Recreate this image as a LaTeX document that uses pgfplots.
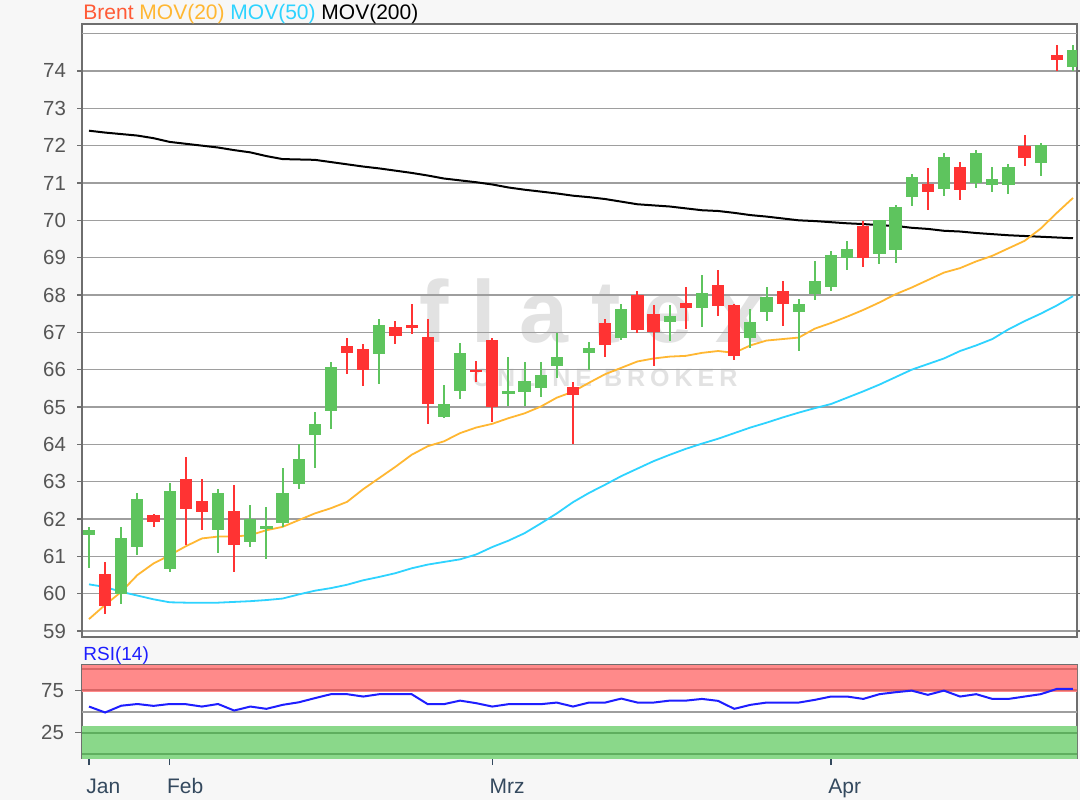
\documentclass[border=0pt]{standalone}
\usepackage{fontspec}
\setmainfont{Liberation Sans}
\newfontfamily\wmfont[LetterSpace=26]{Liberation Sans}
\newfontfamily\wmfontb[LetterSpace=20]{Liberation Sans}
\usepackage{pgfplots}
\pgfplotsset{compat=1.18}
\usepackage{pgfplotstable}

\definecolor{bg}{HTML}{F7F7F7}
\definecolor{cgreen}{HTML}{5EC45E}
\definecolor{cred}{HTML}{FF3333}
\definecolor{mov20}{HTML}{FFB732}
\definecolor{mov50}{HTML}{2ED3FF}
\definecolor{gridc}{HTML}{9E9E9E}
\definecolor{framec}{HTML}{6E6E6E}
\definecolor{labc}{HTML}{555555}
\definecolor{monc}{HTML}{34495E}
\definecolor{brentc}{HTML}{FF5A36}
\definecolor{rsired}{HTML}{FF8A8A}
\definecolor{rsiredd}{HTML}{D96666}
\definecolor{rsigreen}{HTML}{8AD88A}
\definecolor{rsigreend}{HTML}{5FAE5F}
\definecolor{rsiblue}{HTML}{1E1EFF}
\definecolor{wm}{HTML}{E2E2E2}

\pgfplotstableread{
i O H L C
0 61.57 61.80 60.70 61.70
2 59.98 61.80 59.73 61.48
3 61.24 62.70 61.03 62.53
5 60.65 62.97 60.59 62.75
8 61.70 62.80 61.09 62.70
10 61.39 62.37 61.24 61.99
11 61.72 62.33 60.92 61.80
12 61.90 63.36 61.79 62.71
13 62.95 64.00 62.80 63.62
14 64.25 64.86 63.38 64.54
15 64.89 66.20 64.40 66.08
18 66.42 67.36 65.62 67.20
22 64.74 65.60 64.70 65.07
23 65.42 66.72 65.21 66.44
26 65.35 66.35 65.02 65.44
27 65.40 66.20 65.02 65.70
28 65.50 66.20 65.28 65.86
29 66.10 66.98 65.78 66.33
31 66.44 66.75 66.00 66.57
33 66.86 67.75 66.80 67.62
36 67.27 67.73 66.77 67.45
38 67.65 68.53 67.14 68.05
41 66.85 67.62 66.57 67.28
42 67.55 68.22 67.30 67.96
44 67.55 67.89 66.50 67.77
45 68.03 68.91 67.86 68.38
46 68.22 69.18 68.11 69.07
47 69.00 69.44 68.66 69.22
49 69.10 70.02 68.82 70.02
50 69.20 70.41 68.87 70.36
51 70.62 71.24 70.39 71.16
53 70.84 71.81 70.66 71.70
55 71.00 71.88 70.87 71.81
56 70.94 71.43 70.75 71.12
57 70.94 71.50 70.71 71.43
59 71.53 72.08 71.20 72.02
61 74.10 74.70 74.00 74.55
}\greenT

\pgfplotstableread{
i O H L C
1 60.53 60.85 59.45 59.68
4 62.12 62.13 61.78 61.93
6 63.06 63.66 61.30 62.28
7 62.49 63.06 61.70 62.18
9 62.21 62.90 60.59 61.30
16 66.63 66.84 65.88 66.44
17 66.55 66.68 65.56 65.99
19 67.14 67.30 66.68 66.90
20 67.20 67.75 66.95 67.12
21 66.87 67.37 64.55 65.09
24 66.00 66.24 65.67 65.94
25 66.80 66.84 64.59 65.00
30 65.53 65.67 64.00 65.31
32 67.24 67.35 66.33 66.66
34 68.00 68.10 66.98 67.07
35 67.50 67.73 66.09 67.00
37 67.78 68.22 67.10 67.65
39 68.27 68.68 67.43 67.71
40 67.73 67.75 66.25 66.37
43 68.10 68.38 67.16 67.77
48 69.85 69.98 68.75 68.98
52 70.96 71.40 70.27 70.77
54 71.43 71.55 70.55 70.82
58 71.99 72.29 71.46 71.68
60 74.43 74.70 74.00 74.30
}\redT

\pgfplotstableread{
i m20 m50 m200
0 59.32 60.25 72.40
1 59.70 60.18 72.35
2 60.05 60.05 72.31
3 60.50 59.95 72.27
4 60.81 59.85 72.20
5 61.03 59.77 72.10
6 61.27 59.76 72.05
7 61.48 59.76 72.00
8 61.53 59.76 71.95
9 61.53 59.78 71.88
10 61.57 59.80 71.82
11 61.70 59.83 71.72
12 61.79 59.87 71.64
13 61.97 59.98 71.63
14 62.15 60.08 71.62
15 62.29 60.15 71.56
16 62.46 60.24 71.50
17 62.80 60.36 71.44
18 63.10 60.45 71.39
19 63.40 60.55 71.33
20 63.72 60.68 71.27
21 63.95 60.78 71.20
22 64.08 60.85 71.12
23 64.30 60.92 71.07
24 64.45 61.05 71.02
25 64.55 61.25 70.96
26 64.70 61.42 70.88
27 64.83 61.62 70.82
28 65.01 61.88 70.77
29 65.25 62.15 70.72
30 65.41 62.45 70.66
31 65.65 62.70 70.62
32 65.88 62.92 70.57
33 66.05 63.15 70.50
34 66.22 63.35 70.43
35 66.30 63.55 70.40
36 66.35 63.72 70.37
37 66.37 63.88 70.32
38 66.45 64.02 70.27
39 66.50 64.15 70.25
40 66.45 64.30 70.20
41 66.65 64.45 70.14
42 66.78 64.58 70.10
43 66.82 64.72 70.05
44 66.86 64.85 70.00
45 67.10 64.97 69.98
46 67.25 65.08 69.95
47 67.42 65.25 69.92
48 67.60 65.42 69.90
49 67.80 65.60 69.87
50 68.02 65.80 69.85
51 68.20 66.00 69.80
52 68.40 66.15 69.77
53 68.60 66.30 69.72
54 68.72 66.50 69.70
55 68.90 66.65 69.66
56 69.05 66.82 69.63
57 69.25 67.08 69.60
58 69.45 67.30 69.58
59 69.78 67.50 69.56
60 70.20 67.72 69.54
61 70.60 67.97 69.52
}\movT

\pgfplotstableread{
i r
0 56.0
1 49.0
2 57.0
3 59.0
4 56.8
5 59.0
6 58.8
7 56.0
8 59.0
9 51.3
10 56.0
11 53.3
12 58.0
13 61.0
14 65.9
15 70.6
16 70.6
17 67.8
18 70.6
19 70.6
20 70.6
21 58.8
22 58.8
23 63.0
24 60.0
25 56.0
26 58.8
27 58.8
28 58.8
29 60.7
30 56.0
31 60.7
32 60.7
33 65.4
34 60.7
35 60.7
36 63.0
37 63.0
38 65.0
39 62.7
40 53.3
41 58.0
42 60.7
43 60.7
44 60.7
45 63.9
46 67.8
47 67.8
48 65.0
49 70.6
50 72.9
51 74.8
52 69.8
53 74.8
54 67.8
55 70.6
56 65.0
57 65.0
58 67.8
59 70.6
60 76.8
61 76.8
}\rsiT

\pgfplotsset{
  candlewick/.style={draw=none, mark=none, forget plot,
    error bars/.cd, y dir=both, y explicit, error mark=none,
    error bar style={line width=1pt, draw=#1, solid}},
  candlebody/.style={draw=none, mark=none, forget plot,
    error bars/.cd, y dir=both, y explicit, error mark=none,
    error bar style={line width=6.1pt, draw=#1, solid}},
  common/.style={
    scale only axis, anchor=south west,
    width=497.5pt,
    xmin=-0.434, xmax=61.25,
    axis line style={draw=framec, line width=1pt},
    tick align=outside,
    major tick length=2.5pt,
    every tick/.style={draw=framec, line width=0.6pt},
    tick label style={font=\fontsize{10.2}{12}\selectfont, text=labc},
    /pgf/number format/assume math mode=true,
    clip=true,
  }
}

\begin{document}
\begin{tikzpicture}
\begin{scope}[x=0.5pt,y=0.5pt]
\fill[bg] (0,0) rectangle (1080,800);
\fill[white] (82,163) rectangle (1077,775.7);
\fill[white] (82,42) rectangle (1077,135);
% watermark
\node[text=wm, font=\wmfont\bfseries\fontsize{44}{44}\selectfont, anchor=base, inner sep=0] at (592,458) {flatex};
\node[text=wm, font=\wmfontb\bfseries\fontsize{12.5}{13}\selectfont, anchor=base, inner sep=0] at (605,414) {ONLINE BROKER};
\end{scope}

\begin{axis}[common,
  at={(41pt,81.5pt)}, height=306.35pt,
  ymin=58.84, ymax=75.25,
  xtick=\empty,
  ytick={59,...,74},
  ymajorgrids,
  grid style={draw=gridc, line width=0.75pt},
  extra y ticks={75}, extra y tick labels={},
  extra y tick style={major tick length=0pt},
  yticklabel style={xshift=-2pt},
]
% moving averages
\addplot[black, line width=1pt] table[x=i, y=m200] {\movT};
\addplot[mov50, line width=0.9pt] table[x=i, y=m50] {\movT};
\addplot[mov20, line width=0.9pt] table[x=i, y=m20] {\movT};
% candles
\addplot[candlewick=cgreen] table[x=i, y expr={(\thisrow{H}+\thisrow{L})/2}, y error expr={(\thisrow{H}-\thisrow{L})/2}] {\greenT};
\addplot[candlebody=cgreen] table[x=i, y expr={(\thisrow{O}+\thisrow{C})/2}, y error expr={abs(\thisrow{C}-\thisrow{O})/2}] {\greenT};
\addplot[candlewick=cred] table[x=i, y expr={(\thisrow{H}+\thisrow{L})/2}, y error expr={(\thisrow{H}-\thisrow{L})/2}] {\redT};
\addplot[candlebody=cred] table[x=i, y expr={(\thisrow{O}+\thisrow{C})/2}, y error expr={abs(\thisrow{C}-\thisrow{O})/2}] {\redT};
\end{axis}

\begin{axis}[common,
  at={(41pt,21pt)}, height=46.5pt,
  ymin=-4.7, ymax=105,
  ytick={25,75},
  xtick={0,5,25,46},
  xticklabels={Jan,Feb,Mrz,Apr},
  xtick pos=bottom, ytick pos=left,
  major tick length=3.5pt,
  x tick style={draw=monc},
  xticklabel style={anchor=north west, inner sep=0pt, text height=7.6pt, text depth=2pt, xshift=-1.5pt, yshift=-6.5pt, text=monc, font=\fontsize{10.5}{12}\selectfont},
  yticklabel style={xshift=-2pt},
]
\addplot[draw=none, fill=rsired, forget plot] coordinates {(-1,73.5) (63,73.5) (63,110) (-1,110)} -- cycle;
\addplot[rsiredd, line width=1pt, forget plot] coordinates {(-1,100) (63,100)};
\addplot[rsiredd, line width=1pt, forget plot] coordinates {(-1,75) (63,75)};
\addplot[draw=none, fill=rsigreen, forget plot] coordinates {(-1,-10) (63,-10) (63,33.5) (-1,33.5)} -- cycle;
\addplot[rsigreend, line width=1pt, forget plot] coordinates {(-1,25) (63,25)};
\addplot[rsigreend, line width=1pt, forget plot] coordinates {(-1,0) (63,0)};
\addplot[gridc, line width=1pt, forget plot] coordinates {(-1,50) (63,50)};
\addplot[rsiblue, line width=1pt] table[x=i, y=r] {\rsiT};
\end{axis}

\begin{scope}[x=0.5pt,y=0.5pt]
% titles
\node[anchor=base west, inner sep=0, font=\fontsize{10.5}{12}\selectfont] at (83,780) {\textcolor{brentc}{Brent} \textcolor{mov20}{MOV(20)} \textcolor{mov50}{MOV(50)} \textcolor{black}{MOV(200)}};
\node[anchor=base west, inner sep=0, text=rsiblue, font=\fontsize{9.5}{11}\selectfont] at (83,140) {RSI(14)};
\end{scope}

\pgfresetboundingbox
\path[use as bounding box] (0,0) rectangle (540pt,400pt);
\end{tikzpicture}
\end{document}
